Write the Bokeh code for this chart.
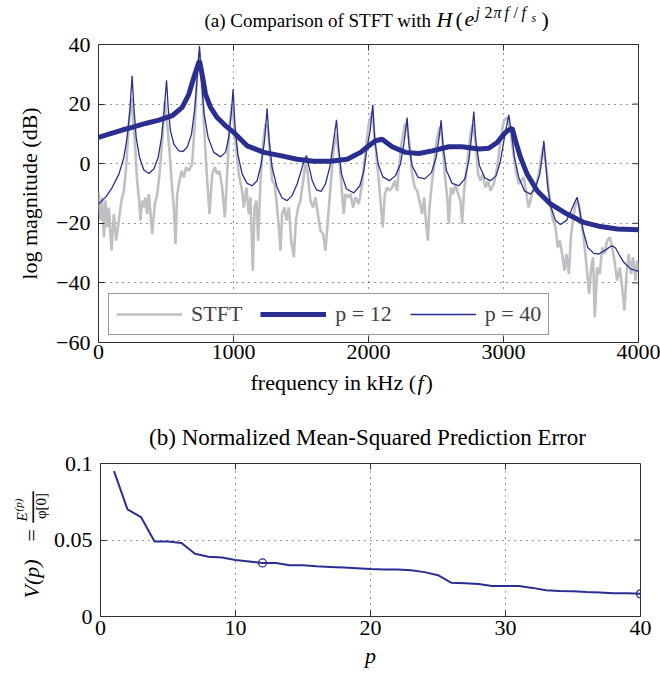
from math import pi
from bokeh.plotting import figure
from bokeh.models import Label, FixedTicker, Legend, LegendItem
from bokeh.layouts import column, row
from bokeh.embed import file_html
from bokeh.resources import INLINE

# ---------------- data ----------------
stft_freq = [0, 15, 27, 40, 52, 64, 77, 96, 114, 131, 151, 170, 188, 205, 225, 244, 269, 286, 299, 311,
             323, 336, 348, 360, 373, 398, 417, 435, 452, 472, 491, 509, 526, 541, 558, 570, 583, 600, 615, 632,
             649, 669, 694, 713, 731, 748, 768, 788, 805, 822, 842, 862, 879, 896, 916, 936, 953, 970, 990,
             1015, 1039, 1064, 1076, 1096, 1113, 1126, 1143, 1156, 1170, 1183, 1200, 1220, 1237, 1254, 1269,
             1286, 1304, 1318, 1336, 1348, 1360, 1378, 1392, 1410, 1427, 1447, 1462, 1479, 1496, 1516, 1536,
             1550, 1570, 1590, 1607, 1625, 1644, 1664, 1681, 1699, 1718, 1743, 1763, 1780, 1797, 1817, 1829,
             1847, 1866, 1886, 1904, 1928, 1953, 1978, 2002,
             2027, 2052, 2072, 2089, 2106, 2121, 2138, 2156, 2175, 2195, 2212, 2225, 2244, 2269, 2286, 2304,
             2323, 2343, 2360, 2378, 2397, 2412, 2427, 2440, 2452, 2466, 2484, 2504, 2526, 2546, 2565, 2583,
             2595, 2610, 2625, 2644, 2664, 2681, 2694, 2708, 2731, 2755, 2773, 2792, 2812, 2830, 2847, 2866,
             2886, 2904, 2928, 2953, 2978, 3002,
             3027, 3047, 3064, 3081, 3096, 3113, 3131, 3150, 3170, 3187, 3205, 3225, 3244, 3261, 3279, 3294,
             3311, 3328, 3348, 3368, 3385, 3402, 3417, 3434, 3452, 3466, 3484, 3501, 3521, 3540, 3558, 3575,
             3590, 3607, 3620, 3634, 3649, 3664, 3676, 3694, 3713, 3731, 3748, 3768, 3787, 3805, 3822, 3842,
             3861, 3879, 3896, 3911, 3928, 3945, 3960, 3978, 3990, 4000]
stft_db = [-9.6, -19, -11.3, -24.7, -12.4, -21.4, -14.7, -29.2, -16.9, -25.8, -19, -12.4, -9.1, -1.2, 13.3, 22, 7.7, -5.7, -11.3, -19,
           -12.4, -14.7, -11.3, -16.9, -10.2, -23.6, -13.5, -10.2, -3.5, 7.7, 21.1, 13.3, 4.3, -5.7, -14.7, -26.9, -10.2, -5.7, -2.4, -4.6,
           -1.2, -2.4, 0, 13.3, 30, 37.8, 24.4, 7.7, -5.7, -16.9, -3.5, -1.2, -3.5, -2.4, -8, -18, -3.5, 13.3, 20,
           7.7, -3.5, -9.1, -14.7, -8, -16.9, -11.3, -35.9, -14.7, -12.4, -25.8, -5.7, 7.7, 13.3, 12.2, 4.3,
           -5.7, -6.8, -12.4, -21.4, -29.2, -16.9, -14.7, -19.1, -14.7, -25.8, -31.4, -19.1, -14.7, -12.4, -5.7, 1,
           -3.5, -12.4, -14.7, -11.3, -16.9, -22.5, -23.6, -29.2, -19.1, -8, 5.5, 9.9, 3.2, -5.7, -16.9, -10.2,
           -11.3, -10.2, -14.7, -11.3, -13.5, -6.8, 4.3, 13.3,
           17.7, 5.5, -3.5, -12.4, -21.4, -10.2, -8, -9.1, -8, -5.7, -9.1, -1.2, 6.6, 13.3, 12.2, 6.6,
           -3.5, -8, -9.1, -12.4, -16.9, -11.3, -20.2, -25.8, -14.7, -8, -1.2, 7.7, 12.2, 8.8, -3.5, -11.3,
           -20.2, -8, -10.2, -6.8, -10.2, -12.4, -20.2, -9.1, -0.1, 9.9, 13.3, 7.7, -3.5, -5.7, -3.5, -8,
           -5.7, -9.1, -6.8, -1.2, 7.7, 14.4,
           15.5, 12.2, 6.6, 1, -3.5, -6.8, -5.7, -4.6, -10.2, -14.7, -11.3, -8, -6.8, -3.5, 2.1, 5.5,
           1, -5.7, -14.7, -19.1, -21.4, -28.1, -25.8, -30.3, -35.9, -30.3, -37, -23.6, -16.9, -12.4, -13.5, -19.1,
           -23.6, -30.3, -37, -43.7, -34.8, -31.4, -51.5, -34.8, -37, -28.1, -30.3, -25.8, -24.7, -28.1, -32.5, -39.2,
           -34.8, -41.5, -49.3, -37, -30.3, -37, -31.4, -39.2, -32.5, -35.9]

p12_freq = [0, 77, 175, 249, 348, 447, 546, 620, 669, 706, 738, 748, 763, 793, 830, 879, 941, 1002,
            1101, 1225, 1348, 1471, 1595, 1718, 1842, 1941, 2002, 2052, 2101, 2175, 2274, 2373, 2472, 2595,
            2694, 2817, 2891, 2953, 3002, 3027, 3064, 3089, 3126, 3175, 3249, 3348, 3471, 3595, 3718, 3842, 4000]
p12_db = [8.8, 9.9, 11.3, 12.2, 13.5, 14.6, 16.1, 18.9, 23.3, 28.9, 33.4, 34.5, 31.1, 23.3, 18.9, 15.5, 12.7, 10.5,
          6, 3.8, 2.7, 1.5, 0.8, 0.8, 1.5, 3.8, 6, 7.7, 8.2, 5.7, 3.8, 3.4, 4.3, 5.7,
          5.7, 4.9, 5.2, 7.1, 9.9, 11, 11.9, 7.7, 2.1, -3.5, -9.1, -13.5, -16.9, -19.7, -21.1, -21.9, -22.2]

p40_freq = [0, 52, 101, 151, 188, 212, 232, 249, 262, 279, 304, 336, 373, 410, 442, 467, 486, 504,
            516, 533, 558, 595, 625, 657, 689, 714, 731, 748, 763, 783, 812, 854, 904, 941, 965, 983, 997,
            1010, 1032, 1064, 1101, 1138, 1175, 1205, 1230, 1249, 1264, 1286, 1323, 1360, 1397, 1434, 1471,
            1501, 1526, 1541, 1558, 1583, 1615, 1649, 1681, 1713, 1738, 1763, 1778, 1800, 1837, 1891, 1936,
            1965, 1990, 2012, 2032, 2047, 2072, 2106, 2156, 2200, 2237, 2262, 2286, 2299, 2323, 2368, 2417,
            2466, 2501, 2523, 2538, 2553, 2578, 2620, 2669, 2714, 2743, 2763, 2780, 2795, 2822, 2862, 2904,
            2946, 2978, 3007, 3039, 3057, 3081, 3113, 3155, 3200, 3237, 3269, 3286, 3299, 3311, 3328, 3353,
            3385, 3422, 3466, 3501, 3526, 3546, 3565, 3590, 3624, 3669, 3706, 3755, 3792, 3810, 3830, 3854,
            3891, 3941, 4000]
p40_db = [-13.5, -11.3, -8, -3.5, 2.1, 8.8, 17.7, 29.5, 18.9, 8.8, 2.1, -2.1, -3.3, -1.8, 2.1, 8.8, 17.7, 28,
          18.9, 11, 6.6, 4.3, 4.1, 5.5, 9.9, 18.9, 28.9, 39.5, 27.8, 16.6, 8.8, 3.8, 2.3, 3.8, 8.8, 16.6, 25,
          13.3, 3.2, -3.5, -6.6, -7.4, -5.7, -0.1, 7.7, 18.5, 7.7, -1.2, -8, -11.5, -12.4, -10.7, -6.8,
          -2.4, 1.5, 2.7, -0.7, -5.7, -8.8, -9.3, -6.8, -1.2, 6.6, 14.7, 5.5, -3.5, -8.5, -9.8, -7.4,
          -2.4, 5.5, 11, 19.8, 7.7, -0.1, -4.4, -5.7, -4, -0.1, 6.6, 15.5, 6.6, -0.7, -4.6, -5.1,
          -3, 2.1, 8.8, 14.6, 5.5, -2.4, -6.6, -7.4, -5.1, 1, 8.8, 17.5, 7.7, -0.7, -4.8, -5.7,
          -4, 1, 8.8, 16.4, 11, 2.1, -4.6, -9.1, -10.2, -8, -3.5, 2.1, 7.7, 1, -8, -14.7,
          -19.1, -20.4, -19.1, -15.8, -13, -11.3, -15.8, -22.5, -28.1, -30.1, -30.3, -29, -27.8, -27.6, -28.3, -30.3,
          -33.1, -35.3, -36.1]

order_p = list(range(1, 41))
v_err = [0.095, 0.070, 0.065, 0.049, 0.049, 0.048, 0.041, 0.039, 0.0385, 0.037,
         0.036, 0.035, 0.035, 0.0335, 0.0335, 0.0328, 0.0324, 0.032, 0.0315, 0.031,
         0.0307, 0.0307, 0.0302, 0.029, 0.027, 0.022, 0.0217, 0.0213, 0.020, 0.020,
         0.020, 0.0187, 0.0172, 0.0167, 0.0165, 0.016, 0.0157, 0.0152, 0.0152, 0.0148]
marked_orders = [12, 40]

top_xticks = [0, 1000, 2000, 3000, 4000]
top_yticks = [-60, -40, -20, 0, 20, 40]
top_ylabels = {-60: "\u221260", -40: "\u221240", -20: "\u221220", 0: "0", 20: "20", 40: "40"}
bot_xticks = [0, 10, 20, 30, 40]
bot_yticks = [0, 0.05, 0.1]
bot_ylabels = {0: "0", 0.05: "0.05", 0.1: "0.1"}

# ---------------- style ----------------
FONT = "Liberation Serif"
FS = 22
BLUE = "#2a2f8f"
GRAY = "#bfc0c4"
FRAME = "#303030"
FL, FR = 98, 22   # left / right borders (px)
FW = 540          # plot-box width in px
TICK = 6          # inward tick length in px
BASE_SHIFT = 0.32  # measured: a Label anchor sits this many em above the glyph baseline


def style(p, xticks, yticks, ylabels, fh, xr, yr):
    p.xaxis.ticker = FixedTicker(ticks=xticks)
    p.yaxis.ticker = FixedTicker(ticks=yticks)
    p.yaxis.major_label_overrides = ylabels
    for ax in p.xaxis + p.yaxis:
        ax.major_tick_in = TICK
        ax.major_tick_out = 0
        ax.minor_tick_in = 0
        ax.minor_tick_out = 0
        ax.axis_line_color = None
        ax.major_tick_line_color = FRAME
        ax.major_label_text_font = FONT
        ax.major_label_text_font_size = f"{FS}px"
        ax.major_label_text_color = "black"
        ax.axis_label_text_font = FONT
        ax.axis_label_text_font_size = f"{FS}px"
        ax.axis_label_text_color = "black"
        ax.axis_label_text_font_style = "normal"
    p.yaxis.major_label_standoff = 8
    p.xaxis.major_label_standoff = 2
    p.xgrid.ticker = FixedTicker(ticks=xticks)
    p.ygrid.ticker = FixedTicker(ticks=yticks)
    for g in (p.xgrid, p.ygrid):
        g.grid_line_color = "#333333"
        g.grid_line_dash = "1 5"
        g.grid_line_width = 1
    p.outline_line_color = FRAME
    p.outline_line_width = 1
    p.background_fill_color = "white"
    p.border_fill_color = "white"
    # inward ticks on the top and right sides of the box (MATLAB style)
    dy = TICK / fh * (yr[1] - yr[0])
    dx = TICK / FW * (xr[1] - xr[0])
    p.segment(x0=xticks, y0=[yr[1]] * len(xticks), x1=xticks, y1=[yr[1] - dy] * len(xticks),
              line_color=FRAME, line_width=1)
    p.segment(x0=[xr[1]] * len(yticks), y0=yticks, x1=[xr[1] - dx] * len(yticks), y1=yticks,
              line_color=FRAME, line_width=1)


def text_fig(h, left=FL, fw=FW, right=FR, top=0, bottom=0):
    """Axis-free figure used only to hold text; x data == page px."""
    f = figure(frame_width=fw, frame_height=h, x_range=(left, left + fw), y_range=(0, h),
               x_axis_type=None, y_axis_type=None, output_backend="svg", toolbar_location=None,
               title=None, min_border_left=left, min_border_right=right,
               min_border_top=top, min_border_bottom=bottom)
    f.outline_line_color = None
    f.background_fill_color = "white"
    f.border_fill_color = "white"
    return f


def put(f, frame_top, fh, px, py, text, size=FS, style="normal", align="left", rotated=False):
    # (px, py): page pixel position of the glyph baseline start; frame_top: page y of the text frame top
    shift = BASE_SHIFT * size
    if rotated:
        px -= shift
    else:
        py -= shift
    f.add_layout(Label(x=px, y=fh - (py - frame_top), text=text, text_font=FONT,
                       text_font_size=f"{size}px", text_font_style=style, text_align=align,
                       text_baseline="alphabetic", angle=pi / 2 if rotated else 0.0,
                       text_color="black"))


# ---------------- T1: title (a) ----------------
T1_H = 31
A_TOPB, A_BOTB = 13, 27
t1 = text_fig(T1_H)
BL = 26
put(t1, 0, T1_H, 204, BL, "(a) Comparison of STFT with", size=19)
put(t1, 0, T1_H, 436, BL, "H", style="italic")
put(t1, 0, T1_H, 455, BL, "(")
put(t1, 0, T1_H, 464, BL, "e", style="italic")
for ch, xx in (("j", 475), ("2", 484), ("\u03c0", 493), ("f", 504), ("/", 513), ("f", 521)):
    put(t1, 0, T1_H, xx, BL - 9, ch, size=16, style="normal" if ch in "2/" else "italic")
put(t1, 0, T1_H, 531, BL - 5, "s", size=12, style="italic")
put(t1, 0, T1_H, 541, BL, ")")

# ---------------- main (a) ----------------
p1 = figure(frame_width=FW, frame_height=298, x_range=(0, 4000), y_range=(-60, 40),
            output_backend="svg", toolbar_location=None, title=None,
            min_border_left=FL, min_border_right=FR, min_border_top=A_TOPB, min_border_bottom=A_BOTB)
style(p1, top_xticks, top_yticks, top_ylabels, 298, (0, 4000), (-60, 40))
p1.yaxis.axis_label = "log magnitude (dB)"
p1.yaxis.axis_label_standoff = 11

r_g = p1.line(stft_freq, stft_db, line_color=GRAY, line_width=2.6)
r_12 = p1.line(p12_freq, p12_db, line_color=BLUE, line_width=5)
r_40 = p1.line(p40_freq, p40_db, line_color=BLUE, line_width=1.3)

legend = Legend(items=[LegendItem(label="STFT", renderers=[r_g]),
                       LegendItem(label="p = 12", renderers=[r_12]),
                       LegendItem(label="p = 40", renderers=[r_40])],
                orientation="horizontal", location=(10, 7),
                label_text_font=FONT, label_text_font_size=f"{FS}px",
                glyph_width=66, glyph_height=20, label_standoff=9, spacing=18,
                padding=7, margin=0, border_line_color=FRAME, border_line_width=1,
                background_fill_color="white", background_fill_alpha=1)
p1.add_layout(legend)

# ---------------- T2: x label (a) and title (b) ----------------
B_TOPB = 13
T2_TOP = T1_H + A_TOPB + 298 + A_BOTB
T2_H = 463 - B_TOPB - T2_TOP
t2 = text_fig(T2_H)
put(t2, T2_TOP, T2_H, 250, 389, "frequency in kHz (")
put(t2, T2_TOP, T2_H, 417, 389, "f", style="italic")
put(t2, T2_TOP, T2_H, 425, 389, ")")
put(t2, T2_TOP, T2_H, 367, 444.5, "(b) Normalized Mean-Squared Prediction Error", size=23, align="center")

# ---------------- main (b) ----------------
p2 = figure(frame_width=FW, frame_height=153, x_range=(0, 40), y_range=(0, 0.1),
            output_backend="svg", toolbar_location=None, title=None,
            min_border_left=48, min_border_right=FR, min_border_top=B_TOPB, min_border_bottom=52)
style(p2, bot_xticks, bot_yticks, bot_ylabels, 153, (0, 40), (0, 0.1))
p2.xaxis.major_label_standoff = 4
p2.xaxis.axis_label = "p"
p2.xaxis.axis_label_text_font_style = "italic"
p2.xaxis.axis_label_standoff = 5
p2.line(order_p, v_err, line_color=BLUE, line_width=2)
p2.scatter([order_p[k - 1] for k in marked_orders], [v_err[k - 1] for k in marked_orders],
           marker="circle", size=8, fill_color=None, line_color=BLUE, line_width=1.3)

# ---------------- T3: y label (b), frame aligned with the frame of (b) ----------------
B_TOP = T2_TOP + T2_H + B_TOPB
t3 = text_fig(153, left=0, fw=50, right=0, top=B_TOPB, bottom=52)
put(t3, B_TOP, 153, 38, 598, "V(p)", style="italic", rotated=True)
put(t3, B_TOP, 153, 38, 541, "=", rotated=True)
put(t3, B_TOP, 153, 26, 521, "E", size=15, style="italic", rotated=True)
put(t3, B_TOP, 153, 21, 511, "(p)", size=11, style="italic", rotated=True)
put(t3, B_TOP, 153, 39.5, 522, "\u2014", size=31, rotated=True)
put(t3, B_TOP, 153, 45, 505.5, "\u03c6[0]", size=15, align="center", rotated=True)

layout = column(t1, p1, t2, row(t3, p2))
open("out.html", "w").write(file_html(layout, INLINE))
